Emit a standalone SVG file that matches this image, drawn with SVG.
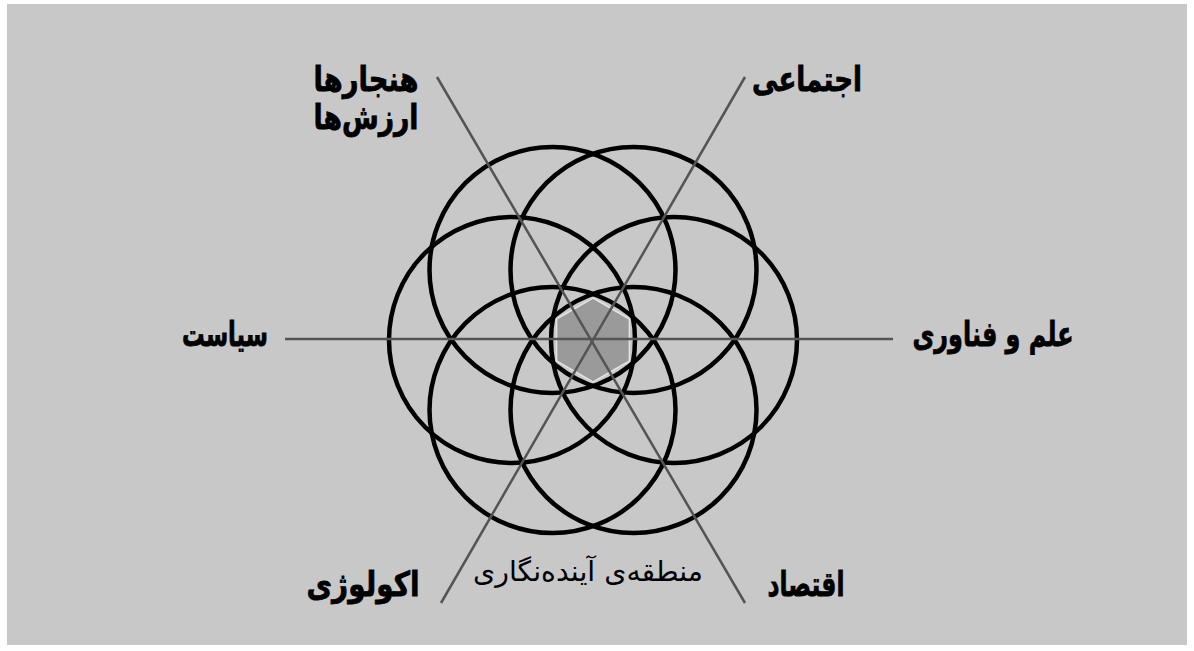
<svg xmlns="http://www.w3.org/2000/svg" width="1194" height="651" viewBox="0 0 1194 651">
<style>
.ring{fill:none;stroke:#000;stroke-width:4.5}
.axis{stroke:#545454;stroke-width:2.5;fill:none}
.lbl{font-family:"DejaVu Sans","Noto Sans",sans-serif;font-weight:bold;font-size:34px;fill:#000;stroke:#000;stroke-width:0.8;text-anchor:middle}
.cap{font-family:"DejaVu Sans","Noto Sans",sans-serif;font-size:28px;fill:#000;text-anchor:middle}
</style>
<rect x="0" y="0" width="1194" height="651" fill="#ffffff"/>
<rect x="7" y="4" width="1180" height="641" fill="#c8c8c8"/>
<g id="core">
<polygon points="593,298 629.4,319 629.4,361 593,382 556.6,361 556.6,319" fill="#9a9a9a" stroke="#e2e2e2" stroke-width="1.5"/>
</g>
<g id="circles">
<circle id="c-left" class="ring" cx="512" cy="340" r="123"/>
<circle id="c-right" class="ring" cx="674" cy="340" r="123"/>
<circle id="c-ul" class="ring" cx="552.5" cy="269.9" r="123"/>
<circle id="c-ur" class="ring" cx="633.5" cy="269.9" r="123"/>
<circle id="c-ll" class="ring" cx="552.5" cy="410.1" r="123"/>
<circle id="c-lr" class="ring" cx="633.5" cy="410.1" r="123"/>
</g>
<g id="connectors">
<line class="axis" x1="285" y1="339" x2="893" y2="339"/>
<line class="axis" x1="437" y1="77" x2="745" y2="603"/>
<line class="axis" x1="745" y1="77" x2="441" y2="603"/>
</g>
<g id="n-norms"><text class="lbl" x="366" y="91" textLength="105" lengthAdjust="spacingAndGlyphs">هنجارها</text><text class="lbl" x="366" y="129" textLength="105" lengthAdjust="spacingAndGlyphs">ارزش‌ها</text></g>
<g id="n-social"><text class="lbl" x="807" y="91" textLength="110" lengthAdjust="spacingAndGlyphs">اجتماعی</text></g>
<g id="n-politics"><text class="lbl" x="225" y="346" textLength="86" lengthAdjust="spacingAndGlyphs">سیاست</text></g>
<g id="n-science"><text class="lbl" x="993" y="346" textLength="161" lengthAdjust="spacingAndGlyphs">علم و فناوری</text></g>
<g id="n-ecology"><text class="lbl" x="363" y="596" textLength="113" lengthAdjust="spacingAndGlyphs">اکولوژی</text></g>
<g id="n-economy"><text class="lbl" x="806" y="596" textLength="77" lengthAdjust="spacingAndGlyphs">اقتصاد</text></g>
<g id="n-zone"><text class="cap" x="588" y="581" textLength="230" lengthAdjust="spacingAndGlyphs">منطقه‌ی آینده‌نگاری</text></g>
</svg>
